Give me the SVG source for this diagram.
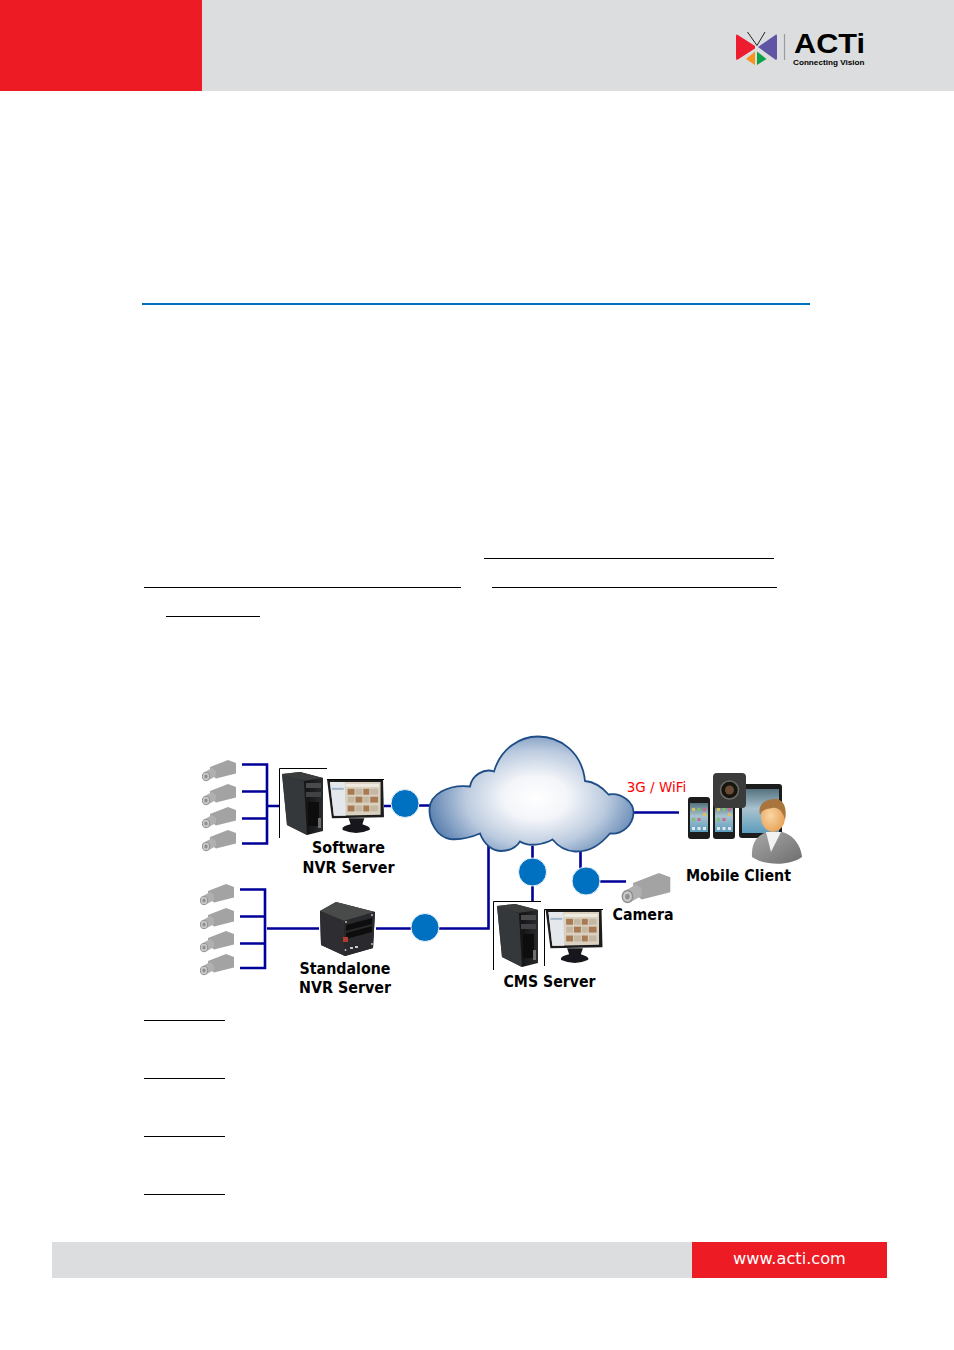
<svg xmlns="http://www.w3.org/2000/svg" xmlns:xlink="http://www.w3.org/1999/xlink" width="954" height="1350" viewBox="0 0 954 1350">
<style>
.bus{fill:none;stroke:#000099;stroke-width:2.6}
.frame{fill:none;stroke:#000;stroke-width:1}
.ul{fill:none;stroke:#000;stroke-width:1}
.dot{fill:#0070c0;stroke:#eef3f8;stroke-width:1}
.lbl{font-family:"DejaVu Sans",Verdana,sans-serif;font-weight:700;font-size:15.5px;fill:#000;text-anchor:middle}
.pic{filter:url(#soft)}
</style>
<defs>
<filter id="soft" x="-5%" y="-5%" width="110%" height="110%"><feGaussianBlur stdDeviation="0.35"/></filter>
<radialGradient id="cloudG" gradientUnits="userSpaceOnUse" cx="536" cy="798" r="108" gradientTransform="translate(536 798) scale(1 .68) translate(-536 -798)">
<stop offset="0" stop-color="#fff"/><stop offset=".3" stop-color="#f3f5f9"/><stop offset=".65" stop-color="#bccbdf"/><stop offset="1" stop-color="#5f84b2"/>
</radialGradient>
<linearGradient id="towerG" x1="0" x2="1" y1="0" y2="0"><stop offset="0" stop-color="#4a4d50"/><stop offset=".45" stop-color="#26282a"/><stop offset=".5" stop-color="#0e0f10"/><stop offset="1" stop-color="#2a2b2d"/></linearGradient>
<radialGradient id="faceG" cx=".4" cy=".45" r=".7"><stop offset="0" stop-color="#fbd6a4"/><stop offset="1" stop-color="#e39a4c"/></radialGradient>
<linearGradient id="suitG" x1="0" x2="1" y1="0" y2="1"><stop offset="0" stop-color="#a8a8a8"/><stop offset="1" stop-color="#6d6d6d"/></linearGradient>
<linearGradient id="iconG" x1="0" x2="0" y1="0" y2="1"><stop offset="0" stop-color="#55727f"/><stop offset=".45" stop-color="#a9c2cf"/><stop offset="1" stop-color="#5d9dbd"/></linearGradient>
<symbol id="cam" viewBox="0 0 34 21" overflow="visible">
<path d="M8 7 L26 0 L34 3 V13.500 L14 18.500 L8 14 Z" fill="#a3a3a3"/>
<path d="M3 12 L10 8 L14 11 V16 L6 20.500 Z" fill="#b0b0b0"/>
<ellipse cx="4" cy="16.500" rx="3.600" ry="4.200" fill="#c9c9c9" stroke="#8f8f8f" stroke-width="1"/>
<ellipse cx="4" cy="16.500" rx="1.600" ry="2" fill="#8f8f8f"/>
</symbol>
<symbol id="tower" viewBox="0 0 41 63">
<path d="M0 2 L18 0 L41 6 L41 59 L25 63 L5 53 Z" fill="url(#towerG)"/>
<path d="M0 2 L18 0 L41 6 L22 9 Z" fill="#3a3c3e"/>
<path d="M0 2 L22 9 L25 63 L5 53 Z" fill="#34373a"/>
<rect x="24" y="11" width="15" height="5" fill="#4a4b4d"/>
<rect x="24" y="20" width="15" height="5" fill="#414244"/>
<rect x="26" y="30" width="11" height="24" fill="#111"/>
<rect x="36" y="46" width="3" height="10" fill="#6c6e70"/>
</symbol>
<symbol id="monitor" viewBox="0 0 58 56">
<path d="M0 0 H57 L58 39 L5 40 Z" fill="#1b1c1e"/>
<path d="M3 3 H54.500 L54.500 36.500 L7 37.500 Z" fill="#d9d0c0"/>
<path d="M3 3 H18 L19 37.500 L7 37.500 Z" fill="#e4e8ec"/>
<rect x="5" y="9" width="12" height="2" fill="#9db6cc"/>
<rect x="19" y="5" width="34" height="3" fill="#efeae0"/>
<g fill="#a87a52"><rect x="21" y="10" width="7" height="6"/><rect x="37" y="10" width="6" height="6"/><rect x="29" y="18" width="7" height="6"/><rect x="44" y="18" width="8" height="6"/><rect x="21" y="27" width="7" height="6"/><rect x="37" y="27" width="6" height="6"/></g>
<g fill="#c4b8a2"><rect x="29" y="10" width="7" height="6"/><rect x="44" y="10" width="8" height="6"/><rect x="21" y="18" width="7" height="6"/><rect x="37" y="18" width="6" height="6"/><rect x="29" y="27" width="7" height="6"/><rect x="44" y="27" width="8" height="6"/></g>
<path d="M22 40 H38 L36 46 Q46 49 43 52 Q30 58 16 52 Q14 48 24 46 Z" fill="#17181a"/>
</symbol>
<symbol id="phone" viewBox="0 0 22 42">
<rect width="22" height="42" rx="3" fill="#1a1a1a"/>
<rect x="2" y="6" width="18" height="29" fill="url(#iconG)"/>
<g fill="#d9c25a"><rect x="4" y="11" width="3" height="3"/><rect x="15" y="16" width="3" height="3"/></g>
<g fill="#7dbf6a"><rect x="9.500" y="11" width="3" height="3"/><rect x="4" y="21" width="3" height="3"/></g>
<g fill="#c76a8e"><rect x="15" y="11" width="3" height="3"/><rect x="9.500" y="21" width="3" height="3"/></g>
<g fill="#dfe8ee"><rect x="4" y="30" width="3" height="3"/><rect x="9.500" y="30" width="3" height="3"/><rect x="15" y="30" width="3" height="3"/></g>
</symbol>
</defs>

<g id="header">
<rect x="0" y="0" width="954" height="91" fill="#dcddde"/>
<rect x="0" y="0" width="202" height="91" fill="#ed1c24"/>
</g>
<g id="logo">
<path d="M737 34.500 L755 46 V48.500 L737 60 Q736 60 736 58 V36 Q736 34 737 34.500 Z" fill="#ed1c2e"/>
<path d="M776 34.500 L758 47 L776 60 Q777 60 777 58 V36 Q777 34 776 34.500 Z" fill="#5f55a4"/>
<path d="M755 51.500 L746 59 L755 65 Z" fill="#f7941d"/>
<path d="M757 51.500 L766.500 59 L757 65 Z" fill="#0ca14b"/>
<path d="M747.500 32 L757 45.500 L765 32" fill="none" stroke="#222" stroke-width="1"/>
<path d="M784.500 34 V60" stroke="#9a9b9d" stroke-width="1.200"/>
<text x="794" y="52.800" font-family="'Liberation Sans',sans-serif" font-weight="700" font-size="27" fill="#000" textLength="71" lengthAdjust="spacingAndGlyphs">ACTi</text>
<text x="793" y="65.300" font-family="'Liberation Sans',sans-serif" font-weight="700" font-size="8" fill="#000" textLength="71.500" lengthAdjust="spacingAndGlyphs">Connecting Vision</text>
</g>

<g id="page-rules">
<path d="M142 304 H810" stroke="#0070c0" stroke-width="2" fill="none"/>
<path class="ul" d="M484 558.500 H774 M144 587.500 H461 M492 587.500 H777 M166 616.500 H260 M144 1020.500 H225 M144 1078.500 H225 M144 1136.500 H225 M144 1194.500 H225"/>
</g>

<g id="connectors">
<path class="bus" d="M242 764.500 H267 V843.500 H242 M242 791.500 H267 M242 818.500 H267 M267 806 H279"/>
<path class="bus" d="M384 806 H392 M419 805.500 H431"/>
<path class="bus" d="M240 889.500 H265 V968 H240 M240 916.500 H265 M240 943.500 H265 M267 928.500 H319"/>
<path class="bus" d="M376 928.500 H411 M439 928.500 H488.500 V846"/>
<path class="bus" d="M532.500 846 V860 M532.500 886 V901"/>
<path class="bus" d="M580.500 848 V869 M600 881.500 H626"/>
<path class="bus" d="M632 812.500 H679"/>
</g>

<g id="cameras-software" class="pic">
<use xlink:href="#cam" href="#cam" x="202" y="760" width="34" height="21"/>
<use xlink:href="#cam" href="#cam" x="202" y="784" width="34" height="21"/>
<use xlink:href="#cam" href="#cam" x="202" y="807" width="34" height="21"/>
<use xlink:href="#cam" href="#cam" x="202" y="830" width="34" height="21"/>
</g>
<g id="cameras-standalone" class="pic">
<use xlink:href="#cam" href="#cam" x="200" y="884" width="34" height="21"/>
<use xlink:href="#cam" href="#cam" x="200" y="908" width="34" height="21"/>
<use xlink:href="#cam" href="#cam" x="200" y="931" width="34" height="21"/>
<use xlink:href="#cam" href="#cam" x="200" y="954" width="34" height="21"/>
</g>

<g id="software-nvr">
<g class="pic">
<use xlink:href="#tower" href="#tower" x="282" y="772" width="41" height="63"/>
<use xlink:href="#monitor" href="#monitor" x="327" y="779" width="57" height="55"/>
</g>
<path class="frame" d="M279.500 838 V768.500 H327 M327 779.500 H384"/>
<text class="lbl" x="348.500" y="853" textLength="73" lengthAdjust="spacingAndGlyphs">Software</text>
<text class="lbl" x="348.500" y="872.500" textLength="92" lengthAdjust="spacingAndGlyphs">NVR Server</text>
</g>

<g id="standalone-nvr">
<g class="pic">
<path d="M320 911 L336 902 L375 912 L373 948 L345 956 L321 945 Z" fill="#1d1e1f"/>
<path d="M320 911 L336 902 L375 912 L344 921 Z" fill="#4a4b4c"/>
<path d="M320 911 L344 921 L345 956 L321 945 Z" fill="#2e2f30"/>
<path d="M344 921 L375 912 L373 948 L345 956 Z" fill="#2a2b2d"/>
<path d="M346 925 L372 918 V924 L346 931 Z M346 933 L372 926 V932 L346 939 Z" fill="#0c0c0c"/>
<rect x="343" y="937" width="5" height="5" fill="#b03a2e"/>
<g fill="#c8c8c8"><circle cx="345.500" cy="950" r=".9"/><circle cx="372" cy="944" r=".9"/><circle cx="372" cy="915" r=".9"/><circle cx="346" cy="922" r=".9"/><rect x="350" y="947" width="3" height="2"/><rect x="355" y="946" width="3" height="2"/></g>
</g>
<text class="lbl" x="345" y="973.500" textLength="91" lengthAdjust="spacingAndGlyphs">Standalone</text>
<text class="lbl" x="345" y="992.500" textLength="92" lengthAdjust="spacingAndGlyphs">NVR Server</text>
</g>

<g id="cloud">
<path d="M429.500 809 C430 795 447 784 470 786.500 C472 775 484 768 494 771.500 C501 748 520 736.500 538 736.500 C560 736.500 582 752 585 781 C595 782 603 788 608.500 794.500 C622 792 634 803 633.500 813 C633 825 622 835 610 833.500 C600 845 590 852 575 851.500 C565 851 557 845 552.500 839.500 C543 845 528 847 520 841.500 C515 849 508 851 501.500 851 C492 851 484 844 480 833.500 C465 840 455 839.500 450 839 C437 837 429 822 429.500 809 Z" fill="url(#cloudG)" stroke="#1f4e87" stroke-width="1.800"/>
</g>

<g id="dots">
<circle class="dot" cx="405" cy="803.500" r="14"/>
<circle class="dot" cx="425" cy="927.500" r="14"/>
<circle class="dot" cx="532.500" cy="872" r="14"/>
<circle class="dot" cx="586" cy="881" r="14"/>
</g>

<g id="cms-server">
<g class="pic">
<use xlink:href="#tower" href="#tower" x="497" y="904" width="41" height="63"/>
<use xlink:href="#monitor" href="#monitor" x="545" y="909" width="58" height="55"/>
</g>
<path class="frame" d="M493.500 970 V901.500 H541 M544.500 966 V909.500 H603"/>
<text class="lbl" x="549.500" y="986.500" textLength="92" lengthAdjust="spacingAndGlyphs">CMS Server</text>
</g>

<g id="camera">
<use class="pic" xlink:href="#cam" href="#cam" x="621" y="873" width="50" height="30"/>
<text class="lbl" x="643" y="919.500" textLength="61" lengthAdjust="spacingAndGlyphs">Camera</text>
</g>

<g id="mobile-client">
<text x="656.500" y="792" font-family="'DejaVu Sans',Verdana,sans-serif" font-size="13.500" fill="#ff0000" text-anchor="middle">3G / WiFi</text>
<g class="pic">
<use xlink:href="#phone" href="#phone" x="688" y="797" width="22" height="42"/>
<use xlink:href="#phone" href="#phone" x="713" y="797" width="22" height="42"/>
<rect x="739" y="784" width="43" height="54" rx="3" fill="#1c1c1c"/>
<rect x="742" y="789" width="37" height="44" fill="url(#iconG)"/>
<rect x="713" y="773" width="33" height="35" rx="4" fill="#3a3a3a"/>
<circle cx="729.500" cy="790" r="9" fill="#15120f" stroke="#6a6a6a" stroke-width="1.500"/>
<circle cx="729.500" cy="790" r="4.500" fill="#6b4a36"/>
<path d="M752 857 C751 842 758 835 767 832 L782 832 C796 836 801 848 802 857 C790 866 765 866 752 857 Z" fill="url(#suitG)"/>
<path d="M766 832 L771 852 L781 832 Z" fill="#f2f2f2"/>
<ellipse cx="773" cy="817" rx="12" ry="15" fill="url(#faceG)"/>
<path d="M760 815 C757 803 768 798 776 799 C785 800 787 810 785 820 C783 811 778 807 772 808 C766 809 762 810 760 815 Z" fill="#a8743c"/>
</g>
<text class="lbl" x="738.500" y="880.500" textLength="105" lengthAdjust="spacingAndGlyphs">Mobile Client</text>
</g>

<g id="footer">
<rect x="52" y="1242" width="640" height="36" fill="#dcddde"/>
<rect x="692" y="1242" width="195" height="36" fill="#ed1c24"/>
<text x="789.500" y="1264" font-family="'DejaVu Sans',Verdana,sans-serif" font-size="16.200" fill="#fff" text-anchor="middle">www.acti.com</text>
</g>
</svg>
